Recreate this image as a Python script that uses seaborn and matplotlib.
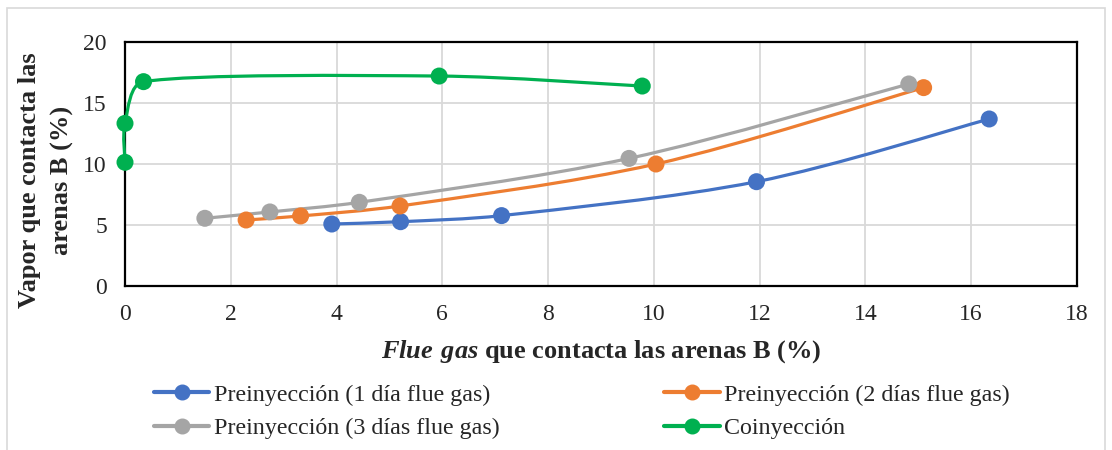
import numpy as np
import pandas as pd
import seaborn as sns
import matplotlib.pyplot as plt
from matplotlib.path import Path
from matplotlib.patches import PathPatch, Rectangle
from matplotlib.lines import Line2D

# data
names = ['Preinyección (1 día flue gas)', 'Preinyección (2 días flue gas)',
         'Preinyección (3 días flue gas)', 'Coinyección']
x_1dia = [3.91, 5.21, 7.12, 11.94, 16.34]
y_1dia = [5.08, 5.27, 5.77, 8.55, 13.69]
x_2dias = [2.29, 3.32, 5.20, 10.04, 15.10]
y_2dias = [5.41, 5.74, 6.56, 10.0, 16.26]
x_3dias = [1.51, 2.74, 4.43, 9.53, 14.82]
y_3dias = [5.55, 6.07, 6.86, 10.46, 16.56]
x_coiny = [0.0, 0.0, 0.35, 5.94, 9.78]
y_coiny = [10.14, 13.33, 16.75, 17.21, 16.39]
colores = ['#4472C4', '#ED7D31', '#A5A5A5', '#00B050']

xs = [x_1dia, x_2dias, x_3dias, x_coiny]
ys = [y_1dia, y_2dias, y_3dias, y_coiny]
df = pd.concat([pd.DataFrame({'x': a, 'y': b, 'serie': n}) for a, b, n in zip(xs, ys, names)],
               ignore_index=True)


def smooth_path(ax, xv, yv, f=1 / 6):
    # curva suavizada tipo Excel, calculada en pixeles para no hacer bucles
    pts = ax.transData.transform(np.column_stack([xv, yv]))
    p = np.vstack([pts[0], pts, pts[-1]])
    verts = [pts[0]]
    codes = [Path.MOVETO]
    for i in range(1, len(p) - 2):
        p0, p1, p2, p3 = p[i - 1], p[i], p[i + 1], p[i + 2]
        d01, d12, d23 = (np.linalg.norm(p1 - p0), np.linalg.norm(p2 - p1),
                         np.linalg.norm(p3 - p2))
        k1 = f * min(1, 2 * d12 / (d01 + d12)) if d01 + d12 > 0 else 0
        k2 = f * min(1, 2 * d12 / (d12 + d23)) if d12 + d23 > 0 else 0
        verts += [p1 + k1 * (p2 - p0), p2 - k2 * (p3 - p1), p2]
        codes += [Path.CURVE4] * 3
    verts = ax.transData.inverted().transform(np.array(verts))
    return Path(verts, codes)


sns.set_style('white')
plt.rcParams['font.family'] = ['Liberation Serif', 'DejaVu Serif']
plt.rcParams['mathtext.fontset'] = 'custom'
plt.rcParams['mathtext.bfit'] = 'Liberation Serif:italic:bold'
plt.rcParams['mathtext.rm'] = 'Liberation Serif'

fig = plt.figure(figsize=(11.12, 4.5), dpi=100)
ax = fig.add_axes([125 / 1112, 1 - 286 / 450, (1077 - 125) / 1112, (286 - 42) / 450])
ax.set_xlim(0, 18)
ax.set_ylim(0, 20)

for xv, yv, c in zip(xs, ys, colores):
    ax.add_patch(PathPatch(smooth_path(ax, xv, yv), facecolor='none', edgecolor=c, lw=2.3,
                           capstyle='round', zorder=3, clip_on=False))

sns.scatterplot(data=df, x='x', y='y', hue='serie', palette=colores, s=150,
                edgecolor='none', linewidth=0, ax=ax, legend=False, zorder=4, clip_on=False)

ax.set_xlim(0, 18)
ax.set_ylim(0, 20)
ax.set_xticks(range(0, 19, 2))
ax.set_yticks(range(0, 21, 5))
ax.grid(True, color='#d9d9d9', lw=1.3)
ax.set_axisbelow(True)
for s in ax.spines.values():
    s.set_color('black')
    s.set_linewidth(1.6)
    s.set_zorder(2)
ax.tick_params(length=0, labelsize=17, pad=13)
ax.set_xlabel('')
ax.set_ylabel('')

fig.text(0.5 * (125 + 1077) / 1112, 1 - 352 / 450,
         r'$\mathbfit{Flue\ gas}$ que contacta las arenas B (%)',
         ha='center', va='center', fontsize=19, fontweight='bold')
fig.text(46 / 1112, 1 - 180 / 450, 'Vapor que contacta las\narenas B (%)',
         rotation=90, ha='center', va='center', fontsize=19, fontweight='bold',
         multialignment='center', linespacing=1.55)

handles = [Line2D([], [], color=c, lw=3, marker='o', markersize=10.5) for c in colores]
orden = [0, 2, 1, 3]  # el legend de Excel va por filas
fig.legend([handles[i] for i in orden], [names[i] for i in orden], loc='upper left',
           bbox_to_anchor=(154 / 1112, 1 - 384 / 450),
           ncol=2, frameon=False, fontsize=17.3, handlelength=2.3, handletextpad=0.2,
           columnspacing=6.85, labelspacing=0.48, borderpad=0, borderaxespad=0)

fig.add_artist(Rectangle((7 / 1112, -0.02), (1105 - 7) / 1112, 1 - 8 / 450 + 0.02,
                         transform=fig.transFigure, fill=False, edgecolor='#d9d9d9', lw=1.2))

fig.savefig('out.png', dpi=100)
